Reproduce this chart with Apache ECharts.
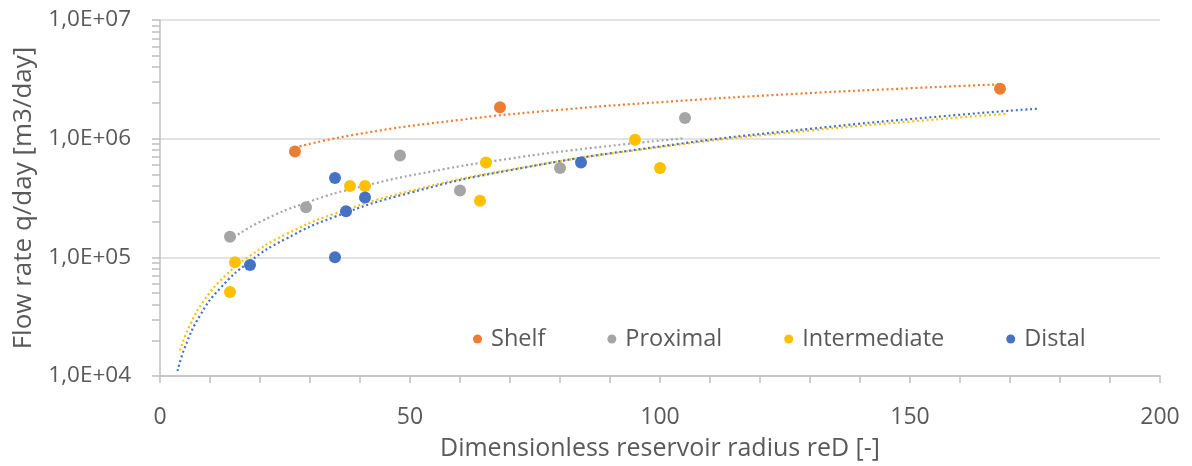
<!DOCTYPE html>
<html>
<head>
<meta charset="utf-8">
<script src="https://cdn.jsdelivr.net/npm/echarts@6/dist/echarts.min.js"></script>
<style>
  html, body { margin: 0; padding: 0; background: #fff; }
  #chart { width: 1192px; height: 466px; }
</style>
</head>
<body>
<div id="chart"></div>
<script>
// Measured points: [reD, q (m3/day)]
const shelf = [[27, 7.8e5], [68, 1.84e6], [168, 2.64e6]];
const proximal = [[14, 1.49e5], [29.2, 2.64e5], [48, 7.2e5], [60, 3.65e5], [80, 5.65e5], [105, 1.49e6]];
const intermediate = [[14, 5.1e4], [15, 9.1e4], [38, 4.0e5], [41, 4.0e5], [64, 3.0e5], [65.2, 6.3e5], [95, 9.8e5], [100, 5.65e5]];
const distal = [[18, 8.6e4], [35, 1.0e5], [35, 4.67e5], [37.2, 2.45e5], [41, 3.19e5], [84.2, 6.3e5]];

// Power trendlines (sampled along each curve)
const shelfTrend = [[27, 8.44e5], [40, 1.10e6], [60, 1.44e6], [80, 1.75e6], [100, 2.03e6], [125, 2.36e6], [150, 2.66e6], [168, 2.87e6]];
const proximalTrend = [[14, 1.40e5], [20, 1.99e5], [30, 2.96e5], [40, 3.92e5], [55, 5.36e5], [70, 6.79e5], [85, 8.23e5], [105, 1.01e6]];
const intermediateTrend = [[4, 1.64e4], [6, 2.69e4], [9, 4.43e4], [13, 6.96e4], [18, 1.03e5], [25, 1.55e5], [35, 2.34e5], [50, 3.62e5], [70, 5.47e5], [100, 8.50e5], [130, 1.17e6], [160, 1.51e6], [169.4, 1.62e6]];
const distalTrend = [[3.5, 1.10e4], [5, 1.75e4], [8, 3.23e4], [12, 5.46e4], [18, 9.26e4], [25, 1.42e5], [35, 2.20e5], [50, 3.50e5], [70, 5.42e5], [100, 8.60e5], [130, 1.21e6], [160, 1.59e6], [175.6, 1.79e6]];

// Axis ticks
const xTicks = [0, 50, 100, 150, 200];
const yDecades = [1e4, 1e5, 1e6, 1e7];
const yMinorTicks = [];
yDecades.forEach((d, i) => {
  if (i < yDecades.length - 1) {
    for (let m = 2; m <= 9; m++) yMinorTicks.push(m * d);
  }
});

const seriesNames = ['Shelf', 'Proximal', 'Intermediate', 'Distal'];
const colors = ['#ED7D31', '#A5A5A5', '#FFC000', '#4472C4'];
const points = [shelf, proximal, intermediate, distal];
const trends = [shelfTrend, proximalTrend, intermediateTrend, distalTrend];

const FONT = 'Open Sans';
const TEXT = '#595959';
const AXIS = '#BFBFBF';

const series = [];
trends.forEach((t, i) => {
  series.push({
    name: seriesNames[i] + ' trend',
    type: 'line',
    data: t,
    smooth: true,
    showSymbol: false,
    silent: true,
    z: 2,
    lineStyle: { color: colors[i], width: 2.2, type: [2, 2.8] }
  });
});
points.forEach((p, i) => {
  series.push({
    name: seriesNames[i],
    type: 'scatter',
    data: p,
    symbol: 'circle',
    symbolSize: 12,
    z: 3,
    itemStyle: { color: colors[i], opacity: 1 }
  });
});

const logAxisBase = {
  type: 'log',
  logBase: 10,
  min: yDecades[0],
  max: yDecades[yDecades.length - 1],
  position: 'left'
};

const chart = echarts.init(document.getElementById('chart'));
chart.setOption({
  animation: false,
  backgroundColor: '#fff',
  textStyle: { fontFamily: FONT },
  grid: { left: 160, right: 32, top: 20, bottom: 83, containLabel: false },
  legend: {
    data: seriesNames,
    left: 468,
    top: 322,
    icon: 'circle',
    itemWidth: 9,
    itemHeight: 9,
    itemGap: 62,
    textStyle: { color: TEXT, fontSize: 23.5, fontFamily: FONT, padding: [0, 0, 0, 4] }
  },
  xAxis: {
    type: 'value',
    min: xTicks[0],
    max: xTicks[xTicks.length - 1],
    interval: 50,
    name: 'Dimensionless reservoir radius reD [-]',
    nameLocation: 'middle',
    nameGap: 60,
    nameTextStyle: { color: TEXT, fontSize: 25, fontFamily: FONT },
    axisLine: { show: true, lineStyle: { color: AXIS, width: 1.5 } },
    axisTick: { show: true, inside: false, length: 7, lineStyle: { color: AXIS, width: 1.5 } },
    minorTick: { show: true, splitNumber: 5, length: 7, lineStyle: { color: AXIS, width: 1.5 } },
    splitLine: { show: false },
    axisLabel: { color: TEXT, fontSize: 23, fontFamily: FONT, margin: 30 }
  },
  yAxis: [
    Object.assign({}, logAxisBase, {
      name: 'Flow rate q/day [m3/day]',
      nameLocation: 'middle',
      nameGap: 123,
      nameTextStyle: { color: TEXT, fontSize: 26, fontFamily: FONT },
      axisLine: { show: true, lineStyle: { color: AXIS, width: 1.5 } },
      axisTick: { show: true, length: 8, lineStyle: { color: AXIS, width: 1.5 } },
      splitLine: { show: true, lineStyle: { color: '#D9D9D9', width: 1.5 } },
      axisLabel: {
        color: TEXT,
        fontSize: 22.5,
        fontFamily: FONT,
        margin: 29,
        formatter: function (v) {
          const e = Math.round(Math.log10(v));
          return '1,0E+' + (e < 10 ? '0' + e : e);
        }
      }
    }),
    // Minor ticks at 2..9 within each decade
    Object.assign({}, logAxisBase, {
      axisLine: { show: false },
      axisTick: { show: true, length: 8, customValues: yMinorTicks, lineStyle: { color: AXIS, width: 1.5 } },
      splitLine: { show: false },
      axisLabel: { show: false }
    })
  ],
  series: series
});
</script>
</body>
</html>
